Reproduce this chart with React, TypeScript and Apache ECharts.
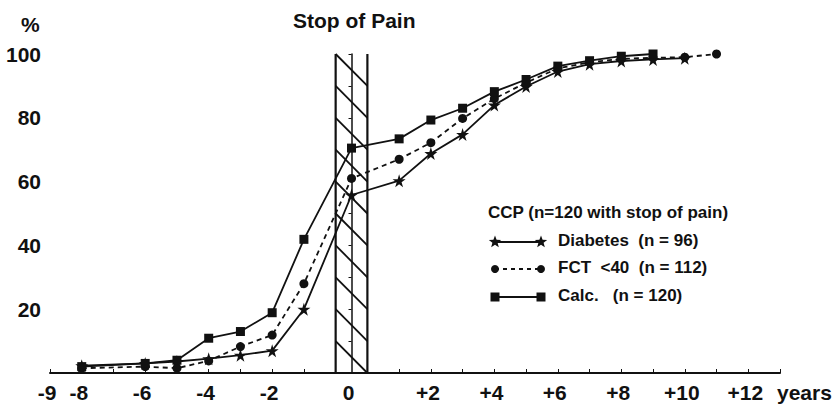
import React, { useEffect, useRef } from "react";
import * as echarts from "echarts";

// ---- Data (years relative to onset of pain relief, % with stop of pain) ----
const diabetesYears = [-8, -6, -5, -4, -3, -2, -1, 0, 1, 2, 3, 4, 5, 6, 7, 8, 9, 10];
const diabetesValues = [2.3, 3, 3.6, 4.5, 5.6, 7, 20, 55.8, 60.3, 68.8, 74.8, 84, 89.8, 94.5, 96.8, 97.8, 98.3, 98.7];

const fctYears = [-8, -6, -5, -4, -3, -2, -1, 0, 1, 2, 3, 4, 5, 6, 7, 8, 9, 10, 11];
const fctValues = [1.5, 2, 1.5, 3.8, 8.3, 11.9, 28, 61, 67, 72.2, 79.8, 86, 91, 95.5, 97.4, 98.5, 98.8, 99, 100];

const calcYears = [-8, -6, -5, -4, -3, -2, -1, 0, 1, 2, 3, 4, 5, 6, 7, 8, 9];
const calcValues = [2, 3, 4, 10.9, 13, 18.9, 41.9, 70.5, 73.4, 79.3, 83, 88.2, 92, 96.2, 97.9, 99.3, 100];

const xTickLabels = [-9, -8, -6, -4, -2, 0, 2, 4, 6, 8, 10, 12];
const yTickLabels = [20, 40, 60, 80, 100];
const hatchLevels = [100, 90, 80, 70, 60, 50, 40, 30, 20, 10];

const seriesNames = ["Diabetes  (n = 96)", "FCT  <40  (n = 112)", "Calc.   (n = 120)"];
const legendTitle = "CCP (n=120 with stop of pain)";

// The onset year "0" is drawn as a one-year-wide band between the
// negative and positive parts of the time scale.
const toAxis = (year: number) => (year < 0 ? year - 0.5 : year > 0 ? year + 0.5 : 0);

const STAR =
  "path://M50,0 L61,35 L98,35 L68,57 L79,91 L50,70 L21,91 L32,57 L2,35 L39,35 Z";
const INK = "#111111";
const FONT = "'Liberation Sans', Arial, Helvetica, sans-serif";

function starPoints(cx: number, cy: number, r: number) {
  const pts: number[][] = [];
  for (let i = 0; i < 10; i++) {
    const rr = i % 2 === 0 ? r : r * 0.42;
    const a = -Math.PI / 2 + (i * Math.PI) / 5;
    pts.push([cx + rr * Math.cos(a), cy + rr * Math.sin(a)]);
  }
  return pts;
}

export default function App() {
  const ref = useRef<HTMLDivElement>(null);

  useEffect(() => {
    if (!ref.current) return;
    const chart = echarts.init(ref.current, undefined, { renderer: "svg" });

    const mk = (years: number[], values: number[]) =>
      years.map((y, i) => [toAxis(y), values[i]]);

    const legendX0 = 495;
    const legendX1 = 541;
    const rows = [242, 269, 297];

    const legendGraphics: any[] = [
      {
        type: "text",
        left: 488,
        top: 204,
        style: { text: legendTitle, font: `bold 17px ${FONT}`, fill: INK },
      },
      // Diabetes row
      {
        type: "line",
        shape: { x1: legendX0, y1: rows[0], x2: legendX1, y2: rows[0] },
        style: { stroke: INK, lineWidth: 1.8 },
      },
      {
        type: "polygon",
        shape: { points: starPoints(legendX0, rows[0], 6.5) },
        style: { fill: INK },
      },
      {
        type: "polygon",
        shape: { points: starPoints(legendX1, rows[0], 6.5) },
        style: { fill: INK },
      },
      {
        type: "text",
        left: 558,
        top: rows[0] - 10,
        style: { text: seriesNames[0], font: `bold 17px ${FONT}`, fill: INK },
      },
      // FCT row
      {
        type: "line",
        shape: { x1: legendX0, y1: rows[1], x2: legendX1, y2: rows[1] },
        style: { stroke: INK, lineWidth: 1.8, lineDash: [4, 4] },
      },
      { type: "circle", shape: { cx: legendX0, cy: rows[1], r: 4 }, style: { fill: INK } },
      { type: "circle", shape: { cx: legendX1, cy: rows[1], r: 4 }, style: { fill: INK } },
      {
        type: "text",
        left: 558,
        top: rows[1] - 10,
        style: { text: seriesNames[1], font: `bold 17px ${FONT}`, fill: INK },
      },
      // Calc row
      {
        type: "line",
        shape: { x1: legendX0, y1: rows[2], x2: legendX1, y2: rows[2] },
        style: { stroke: INK, lineWidth: 1.8 },
      },
      { type: "rect", shape: { x: legendX0 - 4.5, y: rows[2] - 4.5, width: 9, height: 9 }, style: { fill: INK } },
      { type: "rect", shape: { x: legendX1 - 4.5, y: rows[2] - 4.5, width: 9, height: 9 }, style: { fill: INK } },
      {
        type: "text",
        left: 558,
        top: rows[2] - 10,
        style: { text: seriesNames[2], font: `bold 17px ${FONT}`, fill: INK },
      },
    ];

    const labelFor = (v: number) => {
      const u = Math.round(v * 2) / 2;
      if (u === -0.5 || u === 0.5) return "";
      let yr: number;
      if (u === 0) yr = 0;
      else if (u < 0) yr = u + 0.5;
      else yr = u - 0.5;
      if (!xTickLabels.includes(yr)) return "";
      return yr > 0 ? "+" + yr : String(yr);
    };

    const option: any = {
      animation: false,
      backgroundColor: "#ffffff",
      title: {
        text: "Stop of Pain",
        left: 288,
        top: 5,
        textStyle: { fontFamily: FONT, fontWeight: "bold", fontSize: 21, color: INK },
      },
      grid: { left: 50, right: 53, top: 54, bottom: 34, containLabel: false },
      xAxis: [
        {
          type: "value",
          min: -9.5,
          max: 13.5,
          interval: 1,
          axisLine: { show: true, onZero: false, lineStyle: { color: INK, width: 2 } },
          axisTick: { show: true, inside: true, length: 4, lineStyle: { color: INK, width: 1 } },
          axisLabel: { show: false },
          splitLine: { show: false },
        },
        {
          type: "value",
          position: "bottom",
          min: -9.5,
          max: 13.5,
          interval: 0.5,
          axisLine: { show: false },
          axisTick: { show: false },
          splitLine: { show: false },
          axisLabel: {
            show: true,
            margin: 9,
            padding: [0, 6, 0, 0],
            showMinLabel: true,
            showMaxLabel: true,
            formatter: labelFor,
            fontFamily: FONT,
            fontWeight: "bold",
            fontSize: 21,
            color: INK,
          },
        },
      ],
      yAxis: {
        type: "value",
        min: 0,
        max: 100,
        interval: 10,
        axisLine: { show: true, lineStyle: { color: INK, width: 1.5 } },
        axisTick: { show: true, length: 3, lineStyle: { color: INK, width: 1 } },
        splitLine: { show: false },
        axisLabel: {
          margin: 9,
          formatter: (v: number) => (yTickLabels.includes(v) ? String(v) : ""),
          fontFamily: FONT,
          fontWeight: "bold",
          fontSize: 21,
          color: INK,
        },
      },
      graphic: [
        {
          type: "text",
          left: 21,
          top: 14,
          style: { text: "%", font: `bold 21px ${FONT}`, fill: INK },
        },
        {
          type: "text",
          left: 777,
          top: 382,
          style: { text: "years", font: `bold 21px ${FONT}`, fill: INK },
        },
        ...legendGraphics,
      ],
      series: [
        {
          type: "custom",
          xAxisIndex: 0,
          z: 1,
          silent: true,
          data: [[0, 0]],
          renderItem: (_params: any, api: any) => {
            const tl = api.coord([-0.5, 100]);
            const br = api.coord([0.5, 0]);
            const children: any[] = [
              {
                type: "line",
                shape: { x1: tl[0], y1: tl[1], x2: tl[0], y2: br[1] },
                style: { stroke: INK, lineWidth: 2.2 },
              },
              {
                type: "line",
                shape: { x1: br[0], y1: tl[1], x2: br[0], y2: br[1] },
                style: { stroke: INK, lineWidth: 2.2 },
              },
            ];
            hatchLevels.forEach((lv) => {
              const a = api.coord([-0.5, lv]);
              const b = api.coord([0.5, lv - 10]);
              children.push({
                type: "line",
                shape: { x1: a[0], y1: a[1], x2: b[0], y2: b[1] },
                style: { stroke: INK, lineWidth: 1.8 },
              });
            });
            return { type: "group", children };
          },
        },
        {
          name: seriesNames[0],
          type: "line",
          xAxisIndex: 0,
          z: 3,
          data: mk(diabetesYears, diabetesValues),
          symbol: STAR,
          symbolSize: 13,
          showAllSymbol: true,
          lineStyle: { color: INK, width: 1.8 },
          itemStyle: { color: INK },
        },
        {
          name: seriesNames[1],
          type: "line",
          xAxisIndex: 0,
          z: 3,
          data: mk(fctYears, fctValues),
          symbol: "circle",
          symbolSize: 9,
          showAllSymbol: true,
          lineStyle: { color: INK, width: 1.8, type: [5, 4] },
          itemStyle: { color: INK },
        },
        {
          name: seriesNames[2],
          type: "line",
          xAxisIndex: 0,
          z: 3,
          data: mk(calcYears, calcValues),
          symbol: "rect",
          symbolSize: 9,
          showAllSymbol: true,
          lineStyle: { color: INK, width: 1.8 },
          itemStyle: { color: INK },
        },
      ],
    };

    chart.setOption(option);
    return () => chart.dispose();
  }, []);

  return (
    <div
      ref={ref}
      style={{ position: "fixed", left: 0, top: 0, width: 833, height: 407, background: "#fff" }}
    />
  );
}
